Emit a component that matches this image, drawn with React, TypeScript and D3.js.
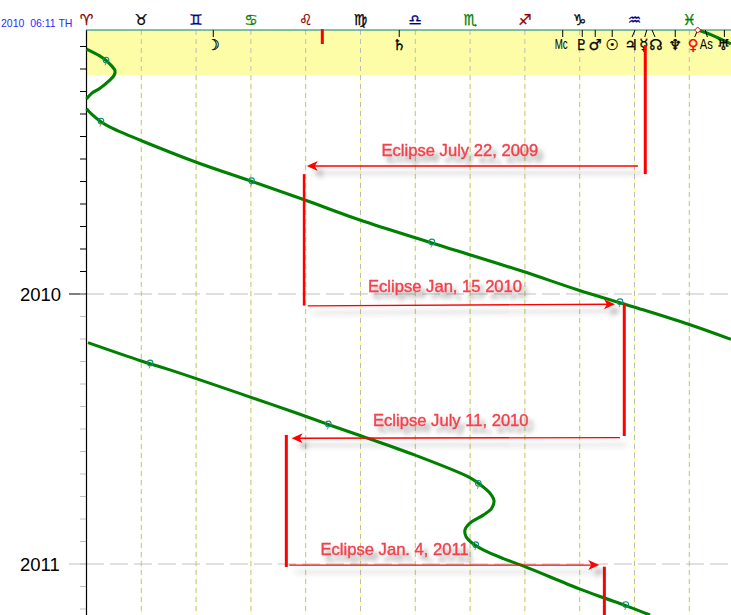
import * as d3 from 'd3'

const width = 731
const height = 615

const signs = ['♈', '♉', '♊', '♋', '♌', '♍', '♎', '♏', '♐', '♑', '♒', '♓']
const signColors = ['#8b0000', '#000000', '#000080', '#008000']
const yearTicks = [2010, 2011]

// [longitude, year]
const pathD = [[334.8, 2009.022], [342.4, 2009.041], [352.8, 2009.074]]
const pathA = [
  [0, 2009.093], [3.6, 2009.105], [9.2, 2009.127], [12.9, 2009.149], [15.6, 2009.173],
  [15.2, 2009.189], [12.9, 2009.207], [7.4, 2009.238], [2.8, 2009.257], [0, 2009.278],
]
const pathB = [
  [0, 2009.314], [2.8, 2009.334], [8.3, 2009.364], [12.9, 2009.382], [21.1, 2009.407],
  [30, 2009.432], [60.1, 2009.512], [89.7, 2009.581], [119.6, 2009.652], [149.7, 2009.726],
  [189.1, 2009.811], [238.3, 2009.915], [269.1, 2009.985], [299.2, 2010.047],
  [329.6, 2010.112], [352.8, 2010.168],
]
const pathC = [
  [0.8, 2010.18], [30, 2010.248], [45.7, 2010.281], [100.5, 2010.407], [118.7, 2010.45],
  [132.2, 2010.483], [149.7, 2010.524], [179.5, 2010.596], [209.6, 2010.679],
  [214.5, 2010.701], [220.9, 2010.738], [223.1, 2010.766], [221.8, 2010.794], [217.2, 2010.819],
  [209.9, 2010.849], [207.2, 2010.874], [207.8, 2010.899], [211.8, 2010.926], [217.2, 2010.948],
  [228.2, 2010.98], [239.7, 2011.009], [269.8, 2011.092], [283.5, 2011.126],
  [295.2, 2011.154], [308.5, 2011.189],
]
const markers = [
  [10.7, 2009.137], [7.9, 2009.363], [90.4, 2009.584], [189.1, 2009.811], [292.1, 2010.032],
  [34.8, 2010.259], [132.4, 2010.485], [214.5, 2010.705], [213.1, 2010.932], [295.2, 2011.154],
]

// [longitude, from year, to year, stroke width]
const bars = [
  [129.1, 2009.019, 2009.074, 3],
  [305.9, 2009.078, 2009.556, 3],
  [119.1, 2009.556, 2010.043, 2.5],
  [294.4, 2010.037, 2010.526, 3],
  [109.4, 2010.522, 2011.011, 3],
  [283.5, 2011.01, 2011.189, 3],
]

// [lon from, year from, lon to, year to]
const arrows = [
  [301.9, 2009.526, 120.6, 2009.526],
  [121.1, 2010.044, 289.3, 2010.038],
  [292.1, 2010.532, 112.3, 2010.534],
  [111, 2011.004, 280.7, 2011.004],
]
const eclipseLabels = ['Eclipse July 22, 2009', 'Eclipse Jan, 15 2010', 'Eclipse July 11, 2010', 'Eclipse Jan. 4, 2011']
const eclipseLabelPos = [[381.5, 156], [368, 291.5], [373, 426], [320.5, 554.5]]

const planetGlyphs = ['☽', '♄', 'Mc', '♇', '♂', '☉', '♃', '☿', '☊', '♆', '♀', 'As', '♅']
const planetLons = [69.4, 171.2, 260.7, 271.4, 278.5, 287.8, 300.3, 306.7, 309.6, 322.3, 334.6, 338.8, 349.2]
const planetGlyphDx = [0, 0, -1.5, -1, 0, 0, -4, -3, 4, 0, -4.5, 1, -1]
const planetTickDx = [0, 0, 0, 0, 0, 0, -3, -2, 3, 0, -3, 2, 0]

const x = d3.scaleLinear().domain([0, 360]).range([86.5, 86.5 + 54.8 * 12])
const y = d3.scaleLinear().domain([2009, 2011]).range([24, 564])

const curve = d3
  .line<number[]>()
  .x(d => x(d[0]))
  .y(d => y(d[1]))
  .curve(d3.curveCatmullRom.alpha(0.5))

const monthTicks = d3.range(1, 27).map(m => 2009 + m / 12)
const top = 30

export default function App() {
  return (
    <svg
      width={width}
      height={height}
      style={{ position: 'absolute', left: 0, top: 0, background: '#fff', fontFamily: 'Liberation Sans, Arial, sans-serif' }}
    >
      <defs>
        <filter id="shadow" filterUnits="userSpaceOnUse" x={0} y={0} width={width} height={height}>
          <feDropShadow dx={5} dy={6} stdDeviation={2} floodColor="#555" floodOpacity={0.5} />
        </filter>
        <filter id="arrowShadow" filterUnits="userSpaceOnUse" x={0} y={0} width={width} height={height}>
          <feDropShadow dx={6} dy={7} stdDeviation={2.5} floodColor="#444" floodOpacity={0.4} />
        </filter>
      </defs>

      <rect x={87} y={top} width={width - 87} height={45} fill="#fdfda8" />

      {signs.map((s, i) => (
        <g key={s}>
          {i > 0 && (
            <>
              <line x1={x(i * 30)} x2={x(i * 30)} y1={top} y2={height} stroke="#ffffa0" />
              <line x1={x(i * 30)} x2={x(i * 30)} y1={top} y2={height} stroke="#bdbdbd" strokeDasharray="5 4" />
            </>
          )}
          <text
            x={x(i * 30)}
            y={24.5}
            textAnchor="middle"
            fontFamily="DejaVu Sans"
            fontSize={15}
            fill={signColors[i % 4]}
            stroke={signColors[i % 4]}
            strokeWidth={0.3}
          >
            {s + '\uFE0E'}
          </text>
        </g>
      ))}

      {yearTicks.map(t => (
        <g key={t}>
          <line x1={86} x2={width} y1={y(t)} y2={y(t)} stroke="#c0c0c0" strokeDasharray="18 6" />
          <line x1={69} x2={86} y1={y(t)} y2={y(t)} stroke={t === 2010 ? '#000' : '#c0c0c0'} />
          <text x={20} y={y(t) + 6.5} fontSize={18.5} fill="#000">
            {t}
          </text>
        </g>
      ))}

      {monthTicks.map(t => (
        <line key={t} x1={80} x2={86} y1={y(t)} y2={y(t)} stroke={t < 2010 ? '#000' : '#c0c0c0'} />
      ))}

      <line x1={86.5} x2={86.5} y1={top} y2={height} stroke="#000" strokeWidth={1.2} />
      <line x1={86} x2={width} y1={top} y2={top} stroke="#008080" strokeWidth={1.2} />

      <text x={1} y={27} fontSize={10.5} fill="#2a2aff" style={{ whiteSpace: 'pre' }}>
        {'2010  06:11 TH'}
      </text>

      {[pathD, pathA, pathB, pathC].map((p, i) => (
        <path key={i} d={curve(p) ?? ''} fill="none" stroke="#008000" strokeWidth={3.1} />
      ))}

      {markers.map((m, i) => (
        <g key={i} fill="none">
          <circle cx={x(m[0])} cy={y(m[1]) - 1} r={2.8} stroke="#0a8f7a" strokeWidth={1.1} />
          <line x1={x(m[0])} x2={x(m[0]) - 1} y1={y(m[1]) + 2} y2={y(m[1]) + 4.5} stroke="#b08a20" />
        </g>
      ))}

      {planetGlyphs.map((g, i) => {
        const px = x(planetLons[i])
        const isText = g === 'Mc' || g === 'As'
        const red = g === '♀'
        return (
          <g key={g}>
            <line x1={px} x2={px + planetTickDx[i]} y1={top} y2={top + 7} stroke="#000" />
            {red && <path d={`M${px},${top - 3}l3,3l-3,3l-3,-3z`} fill="#fff" stroke="#f00" />}
            {isText ? (
              <text
                x={px + planetGlyphDx[i]}
                y={49}
                textAnchor="middle"
                fontSize={15}
                textLength={13}
                lengthAdjust="spacingAndGlyphs"
                fill="#000"
              >
                {g}
              </text>
            ) : (
              <text
                x={px + planetGlyphDx[i]}
                y={49.5}
                textAnchor="middle"
                fontFamily="DejaVu Sans"
                fontSize={15}
                fill={red ? '#f00' : '#000'}
                stroke={red ? '#f00' : '#000'}
                strokeWidth={0.3}
              >
                {g + '\uFE0E'}
              </text>
            )}
          </g>
        )
      })}

      {bars.map((b, i) => (
        <line key={i} x1={x(b[0])} x2={x(b[0])} y1={y(b[1])} y2={y(b[2])} stroke="#f00" strokeWidth={b[3]} />
      ))}

      {arrows.map((a, i) => {
        const x0 = x(a[0])
        const y0 = y(a[1])
        const x1 = x(a[2])
        const y1 = y(a[3])
        const dir = x1 > x0 ? 1 : -1
        return (
          <g key={i} filter="url(#arrowShadow)">
            <line x1={x0} x2={x1 - dir * 6} y1={y0} y2={y1} stroke="#f00" strokeWidth={1.4} />
            <path
              d={`M${x1},${y1}L${x1 - dir * 11},${y1 - 5}L${x1 - dir * 8},${y1}L${x1 - dir * 11},${y1 + 5}Z`}
              fill="#f00"
            />
          </g>
        )
      })}

      {eclipseLabels.map((l, i) => (
        <text
          key={l}
          x={eclipseLabelPos[i][0]}
          y={eclipseLabelPos[i][1]}
          fontSize={16.6}
          fill="#f5404c"
          stroke="#f5404c"
          strokeWidth={0.4}
          filter="url(#shadow)"
        >
          {l}
        </text>
      ))}
    </svg>
  )
}
